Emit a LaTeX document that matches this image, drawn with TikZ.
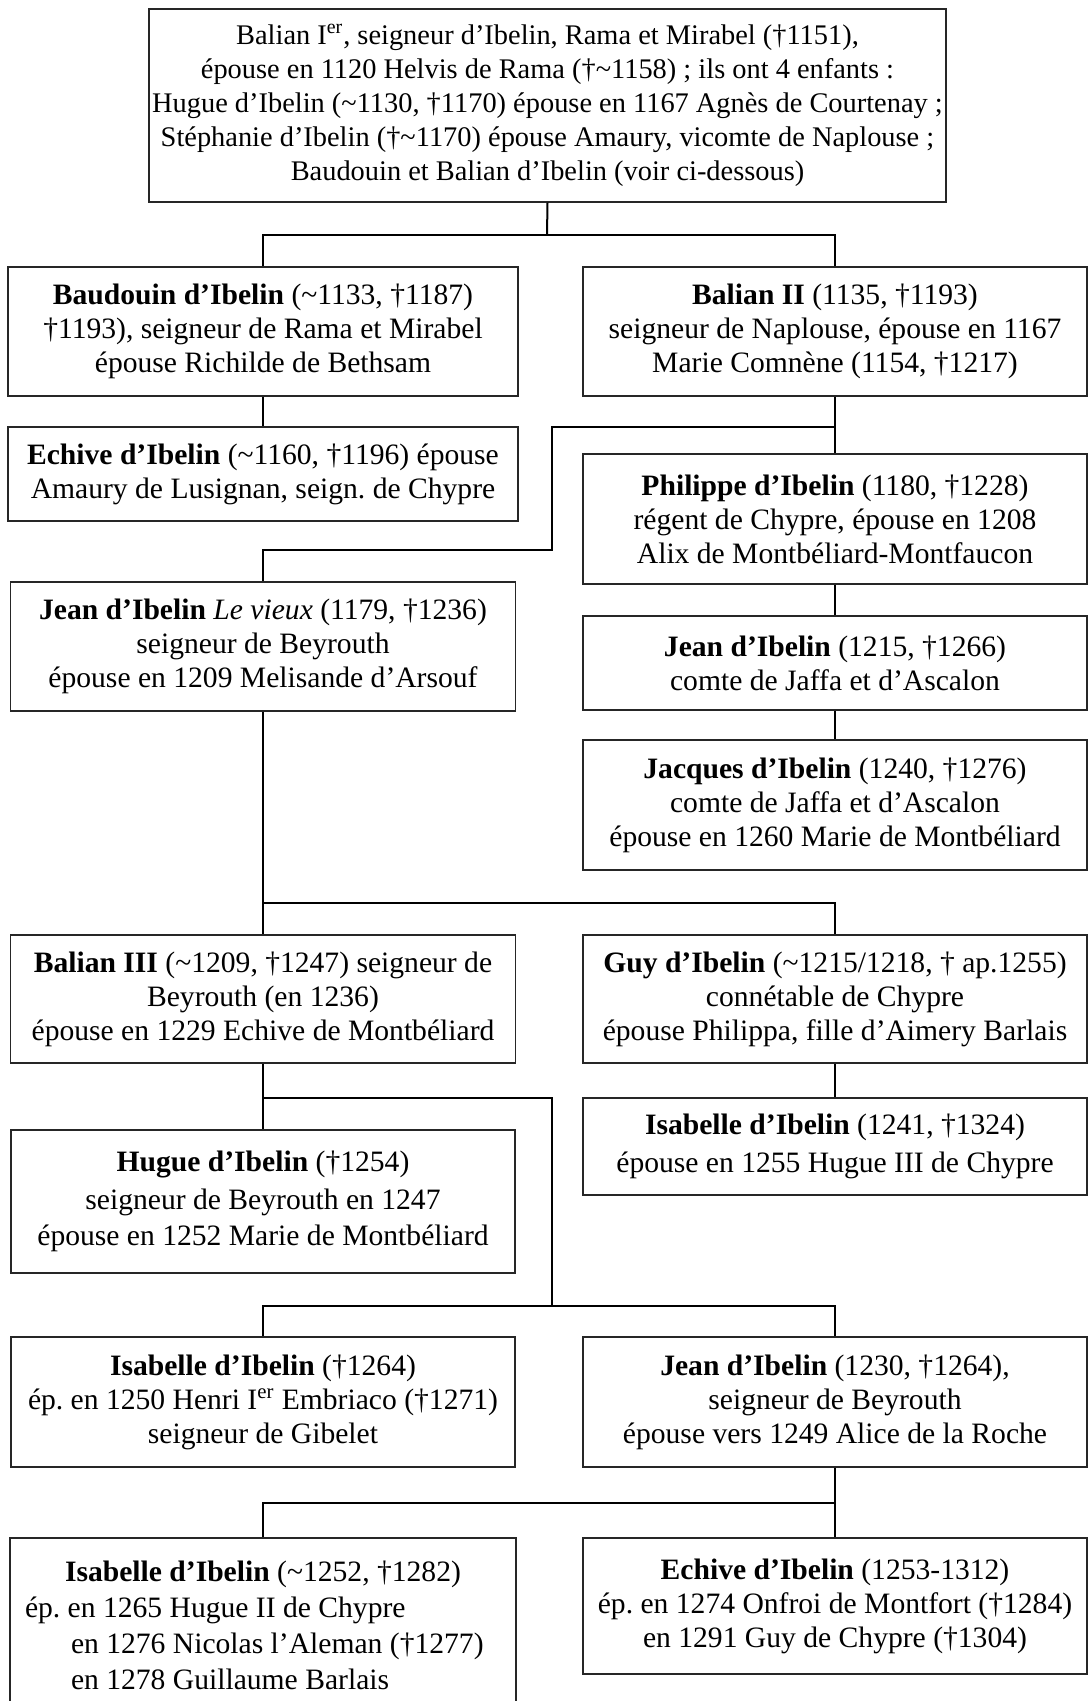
\documentclass[tikz,border=0pt]{standalone}
\usepackage{fontspec}
\setmainfont{Liberation Serif}
\usepackage{xcolor}
\usetikzlibrary{calc}
\frenchspacing

\tikzset{
  pbox/.style={draw=black!85, line width=0.6pt, inner sep=0pt, align=center,
    font=\fontsize{14.8}{17}\selectfont},
  link/.style={line width=1pt, black}
}

\begin{document}
\begin{tikzpicture}[x=0.5pt, y=-0.5pt]
            \useasboundingbox (0,0) rectangle (1089,1701);

            % generation 1
            \node[pbox, font=\fontsize{14.2}{17}\selectfont, minimum width=398.5pt, minimum height=96.5pt] (balian1) at (547.5,105.5) {Balian I\textsuperscript{er}, seigneur d’Ibelin, Rama et Mirabel (†1151),\\ épouse en 1120 Helvis de Rama (†\textasciitilde1158) ; ils ont 4 enfants :\\ Hugue d’Ibelin (\textasciitilde1130, †1170) épouse en 1167 Agnès de Courtenay ;\\ Stéphanie d’Ibelin (†\textasciitilde1170) épouse Amaury, vicomte de Naplouse ;\\ Baudouin et Balian d’Ibelin (voir ci-dessous)};

            % generation 2
            \node[pbox, minimum width=255pt, minimum height=64.5pt] (baudouin) at (263,331.5) {\textbf{Baudouin d’Ibelin} (\textasciitilde1133, †1187)\\ †1193), seigneur de Rama et Mirabel\\ épouse Richilde de Bethsam};
            \node[pbox, minimum width=252pt, minimum height=64.5pt] (balian2) at (835,331.5) {\textbf{Balian II} (1135, †1193)\\ seigneur de Naplouse, épouse en 1167\\ Marie Comnène (1154, †1217)};

            % generation 3
            \node[pbox, minimum width=255pt, minimum height=47pt] (echive1) at (263,474) {\textbf{Echive d’Ibelin} (\textasciitilde1160, †1196) épouse\\ Amaury de Lusignan, seign. de Chypre};
            \node[pbox, minimum width=252pt, minimum height=65pt] (philippe) at (835,519) {\textbf{Philippe d’Ibelin} (1180, †1228)\\ régent de Chypre, épouse en 1208\\ Alix de Montbéliard-Montfaucon};
            \node[pbox, minimum width=252.5pt, minimum height=64.5pt] (jean1) at (263,646.5) {\textbf{Jean d’Ibelin} \textit{Le vieux} (1179, †1236)\\ seigneur de Beyrouth\\ épouse en 1209 Melisande d’Arsouf};

            % generation 4
            \node[pbox, minimum width=252pt, minimum height=47pt] (jeanjaffa) at (835,663) {\textbf{Jean d’Ibelin} (1215, †1266)\\ comte de Jaffa et d’Ascalon};
            \node[pbox, minimum width=252pt, minimum height=65pt] (jacques) at (835,805) {\textbf{Jacques d’Ibelin} (1240, †1276)\\ comte de Jaffa et d’Ascalon\\ épouse en 1260 Marie de Montbéliard};
            \node[pbox, minimum width=252.5pt, minimum height=64pt] (balian3) at (263,999) {\textbf{Balian III} (\textasciitilde1209, †1247) seigneur de\\ Beyrouth (en 1236)\\ épouse en 1229 Echive de Montbéliard};
            \node[pbox, minimum width=252pt, minimum height=64pt] (guy) at (835,999) {\textbf{Guy d’Ibelin} (\textasciitilde1215/1218, † ap.1255)\\ connétable de Chypre\\ épouse Philippa, fille d’Aimery Barlais};

            % generation 5
            \node[pbox, minimum width=252pt, minimum height=48.5pt] (isabelle1) at (835,1146.5) {\textbf{Isabelle d’Ibelin} (1241, †1324)\\[2pt] épouse en 1255 Hugue III de Chypre};
            \node[pbox, minimum width=252pt, minimum height=71.5pt] (hugue) at (263,1201.5) {\textbf{Hugue d’Ibelin} (†1254)\\[2pt] seigneur de Beyrouth en 1247\\[1pt] épouse en 1252 Marie de Montbéliard};
            \node[pbox, minimum width=252pt, minimum height=65pt] (isabelle2) at (263,1402) {\textbf{Isabelle d’Ibelin} (†1264)\\ ép. en 1250 Henri I\textsuperscript{er} Embriaco (†1271)\\ seigneur de Gibelet};
            \node[pbox, minimum width=252pt, minimum height=65pt] (jean3) at (835,1402) {\textbf{Jean d’Ibelin} (1230, †1264),\\ seigneur de Beyrouth\\ épouse vers 1249 Alice de la Roche};

            % generation 6
            \node[pbox, align=left, text width=250pt, minimum width=253pt, minimum height=112pt] (isabelle3) at (263,1650) {\spaceskip=0pt \xspaceskip=0pt \makebox[250pt][c]{\textbf{Isabelle d’Ibelin} (\textasciitilde1252, †1282)}\\[1pt] \hspace*{6pt}ép. en 1265 Hugue II de Chypre\\[1pt] \hspace*{29pt}en 1276 Nicolas l’Aleman (†1277)\\[1pt] \hspace*{29pt}en 1278 Guillaume Barlais\\[8pt]\mbox{}};
            \node[pbox, minimum width=252pt, minimum height=68pt] (echive2) at (835,1606) {\textbf{Echive d’Ibelin} (1253-1312)\\ ép. en 1274 Onfroi de Montfort (†1284)\\ en 1291 Guy de Chypre (†1304)};

            \coordinate (k1) at (547,235);
            \coordinate (k2) at (552,427);
            \coordinate (k3) at (552,550);
            \coordinate (k4) at (835,903);
            \coordinate (k5) at (552,1098);
            \coordinate (k6) at (552,1306);
            \coordinate (k7) at (835,1503);

            % links
            \draw[link] (balian1.south) -- (k1);
            \draw[link] (baudouin.north) |- (k1) -| (balian2.north);
            \draw[link] (baudouin.south) -- (echive1.north);
            \draw[link] (balian2.south) -- (philippe.north);
            \draw[link] (balian2.south |- k2) -- (k2) -- (k3) -| (jean1.north);
            \draw[link] (philippe.south) -- (jeanjaffa.north);
            \draw[link] (jeanjaffa.south) -- (jacques.north);
            \draw[link] (jean1.south) -- (balian3.north);
            \draw[link] (jean1.south |- k4) -- (k4) -- (guy.north);
            \draw[link] (guy.south) -- (isabelle1.north);
            \draw[link] (balian3.south) -- (hugue.north);
            \draw[link] (balian3.south |- k5) -- (k5) -- (k6);
            \draw[link] (isabelle2.north) |- (k6) -| (jean3.north);
            \draw[link] (jean3.south) -- (echive2.north);
            \draw[link] (jean3.south |- k7) -| (isabelle3.north);
        \end{tikzpicture}
\end{document}
